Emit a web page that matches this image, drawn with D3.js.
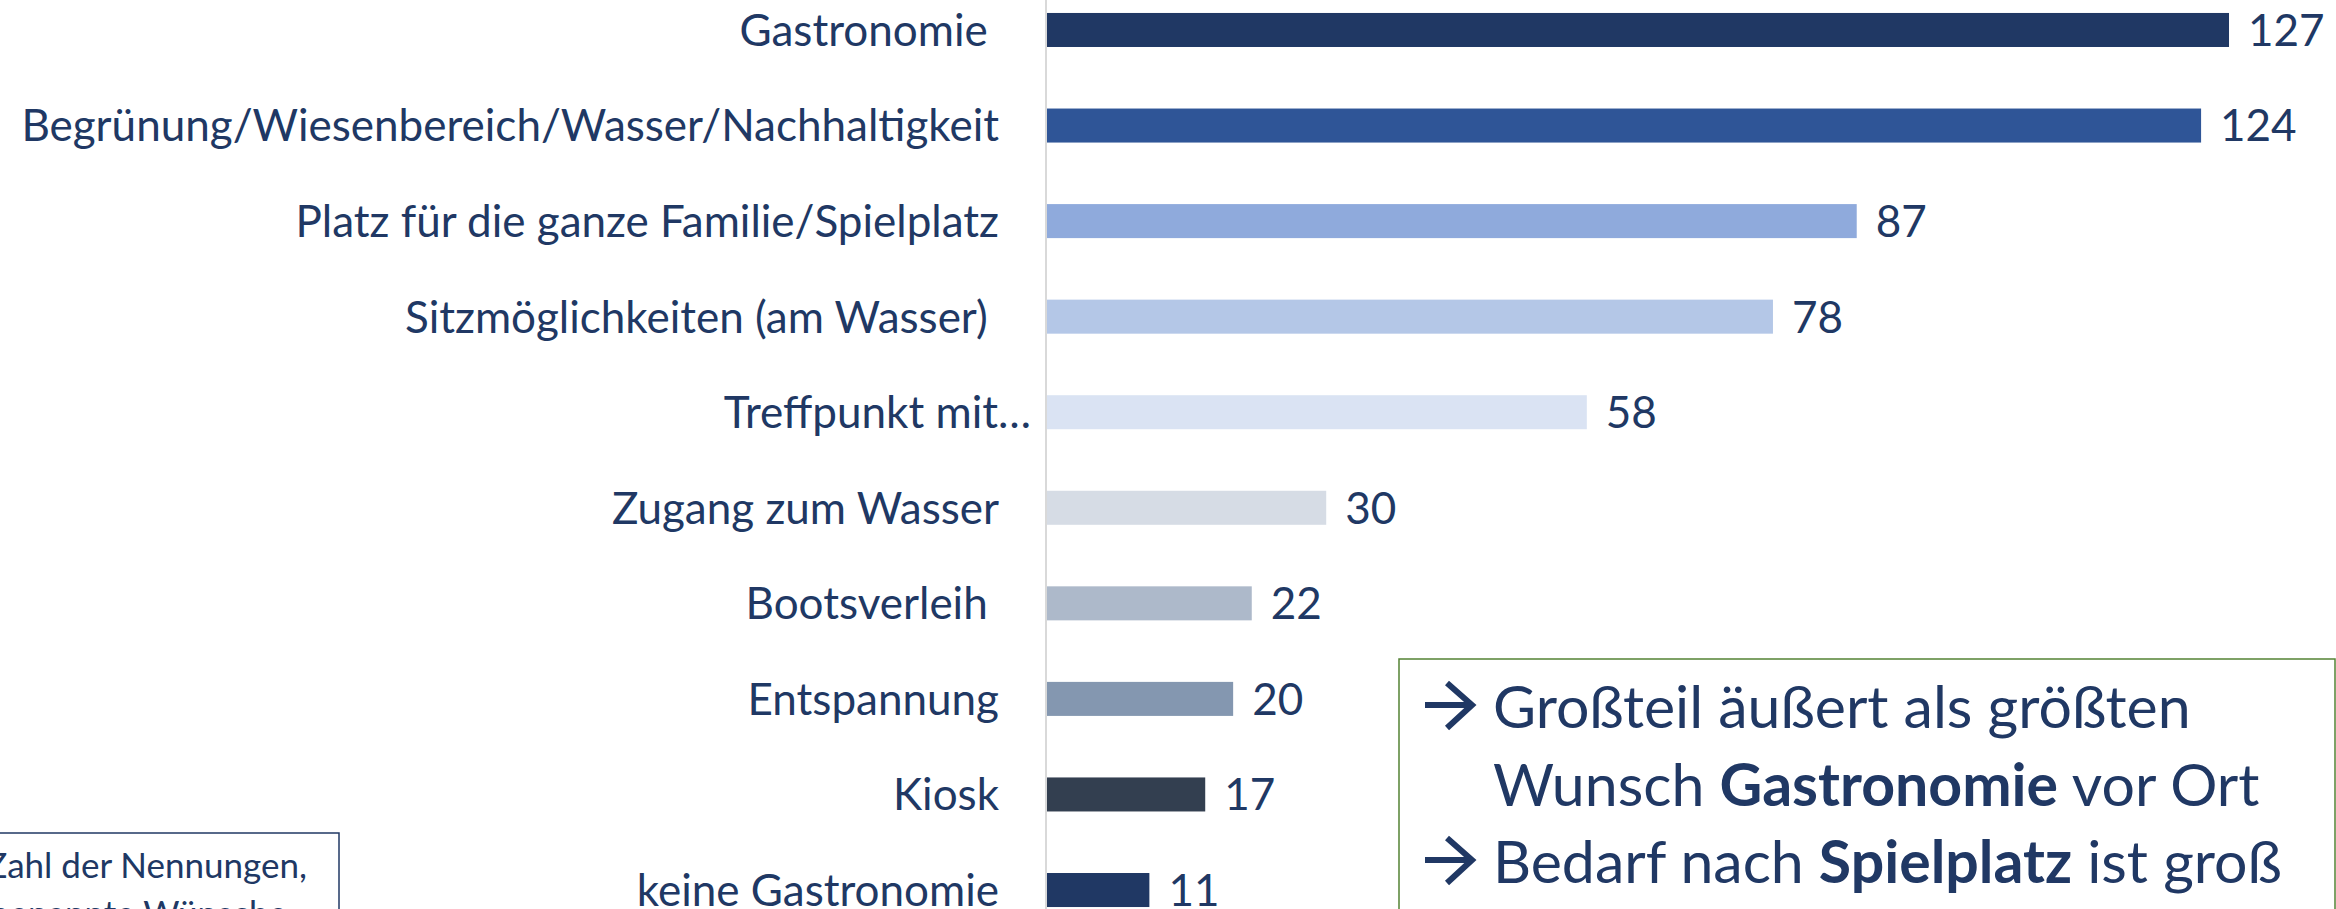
<!DOCTYPE html>
<html>
<head>
<meta charset="utf-8">
<script src="https://cdn.jsdelivr.net/npm/d3@7"></script>
<style>
  body { margin: 0; background: #fff; }
  svg text { font-family: Lato, "Open Sans", sans-serif; fill: #203864; white-space: pre; }
</style>
</head>
<body>
<div class="chart"></div>
<script>
// categories, top to bottom (trailing spaces are in the original labels)
let categories = [
  "Gastronomie ",
  "Begrünung/Wiesenbereich/Wasser/Nachhaltigkeit",
  "Platz für die ganze Familie/Spielplatz",
  "Sitzmöglichkeiten (am Wasser) ",
  "Treffpunkt mit…",
  "Zugang zum Wasser",
  "Bootsverleih ",
  "Entspannung",
  "Kiosk",
  "keine Gastronomie"
]
let counts = [127, 124, 87, 78, 58, 30, 22, 20, 17, 11]
let barColors = ["#203864", "#2F5597", "#8FAADC", "#B4C7E7", "#DAE3F3",
                 "#D6DCE5", "#ADB9CA", "#8497B0", "#333F50", "#203864"]

let noteLines = ["Zahl der Nennungen,", "genannte Wünsche"]
// callout text, parts marked b are bold
let calloutLines = [
  {arrow: true,  parts: [{t: "Großteil äußert als größten"}]},
  {arrow: false, parts: [{t: "Wunsch "}, {t: "Gastronomie", b: true}, {t: " vor Ort"}]},
  {arrow: true,  parts: [{t: "Bedarf nach "}, {t: "Spielplatz", b: true}, {t: " ist groß"}]}
]

let width = 2336, height = 909
let svg = d3.select("div.chart").append("svg")
  .attr("width", width)
  .attr("height", height)

let data = categories.map((c, i) => ({name: c, value: counts[i]}))

let x = d3.scaleLinear().domain([0, 140]).range([1047, 2350])
let y = d3.scaleBand()
  .domain(categories)
  .range([-17.8, 937.8])
  .paddingInner(0.644)
  .paddingOuter(0.322)
let color = d3.scaleOrdinal(categories, barColors)

// bars
svg.selectAll("rect.bar")
  .data(data)
  .enter()
  .append("rect")
  .attr("class", "bar")
  .attr("x", x(0))
  .attr("y", d => y(d.name))
  .attr("width", d => x(d.value) - x(0))
  .attr("height", y.bandwidth())
  .attr("fill", d => color(d.name))

// category axis: only the thin grey line, labels drawn on the left
let yAxis = d3.axisLeft(y).tickSize(0).tickPadding(47)
let gAxis = svg.append("g")
  .attr("transform", `translate(${x(0) - 1},0)`)
  .call(yAxis)
gAxis.select(".domain").remove()
gAxis.selectAll("text")
  .style("font-size", "44px")
  .style("font-family", "Lato, 'Open Sans', sans-serif")
  .attr("fill", "#203864")
  .attr("dy", "0.36em")
  .attr("dx", d => d.endsWith("…") ? 32 : 0)

svg.append("line")
  .attr("x1", x(0) - 1).attr("x2", x(0) - 1)
  .attr("y1", 0).attr("y2", height)
  .attr("stroke", "#d9d9d9")
  .attr("stroke-width", 2)

// value labels
svg.selectAll("text.value")
  .data(data)
  .enter()
  .append("text")
  .attr("class", "value")
  .attr("x", d => x(d.value) + 19)
  .attr("y", d => y(d.name) + y.bandwidth() / 2)
  .attr("dy", "0.36em")
  .style("font-size", "44px")
  .text(d => d.value)

// note box bottom left (cut by the page edge)
svg.append("rect")
  .attr("x", -10).attr("y", 833)
  .attr("width", 349).attr("height", 120)
  .attr("fill", "none")
  .attr("stroke", "#203864")
  .attr("stroke-width", 1.5)
svg.selectAll("text.note")
  .data(noteLines)
  .enter()
  .append("text")
  .attr("class", "note")
  .attr("x", (d, i) => i == 0 ? 307 : 287)
  .attr("y", (d, i) => 878 + i * 48)
  .attr("text-anchor", "end")
  .style("font-size", "35px")
  .text(d => d)

// callout box
svg.append("rect")
  .attr("x", 1399).attr("y", 659)
  .attr("width", 936).attr("height", 300)
  .attr("fill", "#fff")
  .attr("stroke", "#548235")
  .attr("stroke-width", 1.5)

let lines = svg.selectAll("g.callout")
  .data(calloutLines)
  .enter()
  .append("g")
  .attr("class", "callout")
  .attr("transform", (d, i) => `translate(0,${728 + i * 77.5})`)

// arrow bullet
lines.filter(d => d.arrow)
  .append("path")
  .attr("d", "M1425,-23H1470M1447,-45L1472,-23L1447,0")
  .attr("fill", "none")
  .attr("stroke", "#203864")
  .attr("stroke-width", 6)

lines.append("text")
  .attr("x", 1493)
  .style("font-size", "59px")
  .selectAll("tspan")
  .data(d => d.parts)
  .enter()
  .append("tspan")
  .style("font-weight", d => d.b ? "bold" : "normal")
  .text(d => d.t)
</script>
</body>
</html>
